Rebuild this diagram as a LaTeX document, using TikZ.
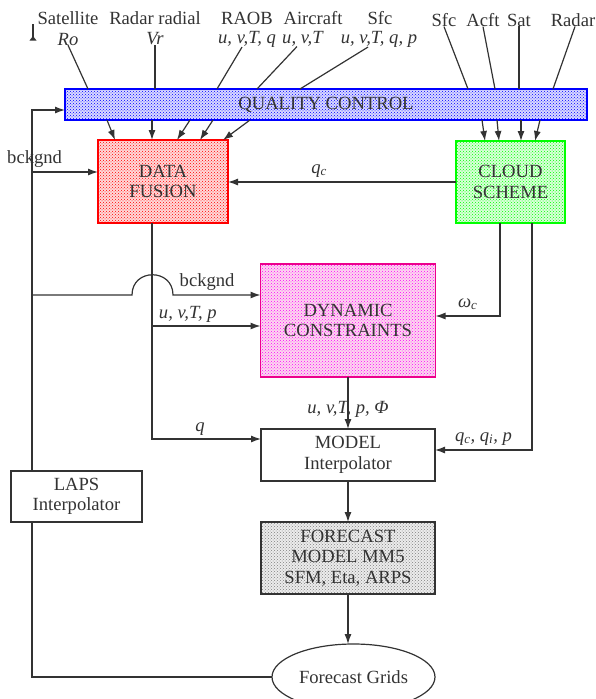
\documentclass[tikz,border=0pt]{standalone}
\usepackage{fontspec}
\setmainfont{Liberation Serif}
\usetikzlibrary{positioning,arrows.meta,patterns,shapes.geometric}

\begin{document}
\begin{tikzpicture}[x=1pt, y=-1pt, line width=1.2pt, color=black!80,
  every node/.style = {font=\fontsize{18.6}{20.5}\selectfont,
    align=center, inner sep=0pt, outer sep=0pt},
  dotbox/.style = {draw=#1, preaction={fill=#1!15}, pattern=crosshatch dots,
    pattern color=#1},
  plainbox/.style = {draw=black!80, fill=white},
  arr/.style = {-{Latex[length=10pt,width=7pt]}}]
  \useasboundingbox (0,0) rectangle (595,699);

  % boxes
  \node[dotbox=blue, minimum width=522pt, minimum height=31pt] (qc) at (326,104.5) {QUALITY CONTROL};
  \node[dotbox=red, minimum width=130pt, minimum height=83pt] (df) at (163,181.5) {DATA\\FUSION};
  \node[dotbox=green, minimum width=109pt, minimum height=82pt] (cloud) at (510.5,182) {CLOUD\\SCHEME};
  \node[dotbox=magenta, minimum width=175pt, minimum height=113pt] (dyn) at (348,320.5) {DYNAMIC\\CONSTRAINTS};
  \node[plainbox, minimum width=174pt, minimum height=52pt] (model) at (348,455) {MODEL\\Interpolator};
  \node[plainbox, minimum width=131pt, minimum height=51pt] (laps) at (76.5,496.5) {LAPS\\Interpolator};
  \node[dotbox=gray, draw=black!80, minimum width=174pt, minimum height=72pt] (fc) at (348,558) {FORECAST\\MODEL MM5\\SFM, Eta, ARPS};
  \node[draw, ellipse, minimum width=163pt, minimum height=66pt] (grids) at (353.5,677) {Forecast Grids};

  % observations
  \node (satl) at (68,18) {Satellite};
  \node (ro) at (68,39) {\textit{Ro}};
  \node (radl) at (155,18) {Radar radial};
  \node (vr) at (155,39) {\textit{Vr}};
  \node (raobl) at (247,18) {RAOB};
  \node (raobv) at (247,39) {\textit{u, v,T, q}};
  \node (acftl) at (313,18) {Aircraft};
  \node (acftv) at (303,39) {\textit{u, v,T}};
  \node (sfcl) at (380,18) {Sfc};
  \node (sfcv) at (379,39) {\textit{u, v,T, q, p}};
  \node (sfcb) at (444,20) {Sfc};
  \node (acftb) at (483,20) {Acft};
  \node (satb) at (519,20) {Sat};
  \node (radarb) at (573,20) {Radar};
  \draw (33,24) -- (33,40);
  \fill (29.5,40.5) -- (36.5,40.5) -- (33,36) -- cycle;

  \draw (ro.south) -- ([xshift=23pt]qc.north west);
  \draw (vr.south) -- (vr.south |- qc.north);
  \draw ([xshift=-5pt]raobv.south) -- ([xshift=152pt]qc.north west);
  \draw ([xshift=-6pt]acftv.south) -- ([xshift=192pt]qc.north west);
  \draw ([xshift=-11pt]sfcv.south) -- ([xshift=235pt]qc.north west);
  \draw (sfcb.south) -- ([xshift=403pt]qc.north west);
  \draw (acftb.south) -- ([xshift=430pt]qc.north west);
  \draw (satb.south) -- (satb.south |- qc.north);
  \draw ([xshift=2pt]radarb.south) -- ([xshift=488pt]qc.north west);

  \foreach \a/\b in {42/17,87/54,125/79,148/102,185/125}
    \draw[arr] ([xshift=\a pt]qc.south west) -- ([xshift=\b pt]df.north west);
  \foreach \a/\b in {417/29,432/43,456/65,475/79}
    \draw[arr] ([xshift=\a pt]qc.south west) -- ([xshift=\b pt]cloud.north west);

  % background bus
  \coordinate (bus) at ([xshift=21pt]laps.north west);
  \coordinate (qcin) at ([yshift=-5.5pt]qc.west);
  \coordinate (dfin) at ([yshift=9.5pt]df.west);
  \coordinate (dfout) at ([xshift=54pt]df.south west);
  \coordinate (dynin1) at ([yshift=25.5pt]dyn.west);
  \coordinate (dynin2) at ([yshift=-5.5pt]dyn.west);
  \coordinate (dynin3) at ([yshift=4.5pt]dyn.east);
  \coordinate (modin1) at ([yshift=16pt]model.west);
  \coordinate (modin2) at ([yshift=5pt]model.east);
  \coordinate (cl1) at ([xshift=44pt]cloud.south west);
  \coordinate (cl2) at ([xshift=76pt]cloud.south west);

  \draw[arr] (bus) |- (qcin);
  \draw[arr] (bus |- dfin) -- (dfin);
  \node[above left=4pt and -30pt] at (bus |- dfin) {bckgnd};
  \draw[arr] (cloud.west) -- (cloud.west -| df.east)
    node[pos=.6, above=5pt] {\textit{q}\textsubscript{\textit{c}}};
  \draw[arr] (bus |- dynin1) -- (132,295) .. controls +(0,-27) and +(0,-27) .. (173,295)
    -- (dynin1) node[pos=.39, above=4pt] {bckgnd};
  \draw[arr] (dfout |- dynin2) -- (dynin2) node[pos=.33, above=4pt] {\textit{u, v,T, p}};
  \draw[arr] (dfout) |- (modin1) node[pos=.72, above=4pt] {\textit{q}};
  \draw[arr] (cl1) |- (dynin3) node[pos=.75, above=6pt] {\textit{ω}\textsubscript{\textit{c}}};
  \draw[arr] (cl2) |- (modin2) node[pos=.75, above=5pt] {\textit{q}\textsubscript{\textit{c}}\textit{, q}\textsubscript{\textit{i}}\textit{, p}};
  \draw[arr] (dyn) -- (model) node[pos=.63] {\textit{u, v,T, p, Φ}};
  \draw[arr] (model) -- (fc);
  \draw[arr] (fc) -- (fc.south |- grids.north);
  \draw (grids.west) -| ([xshift=21pt]laps.south west);
\end{tikzpicture}
\end{document}
